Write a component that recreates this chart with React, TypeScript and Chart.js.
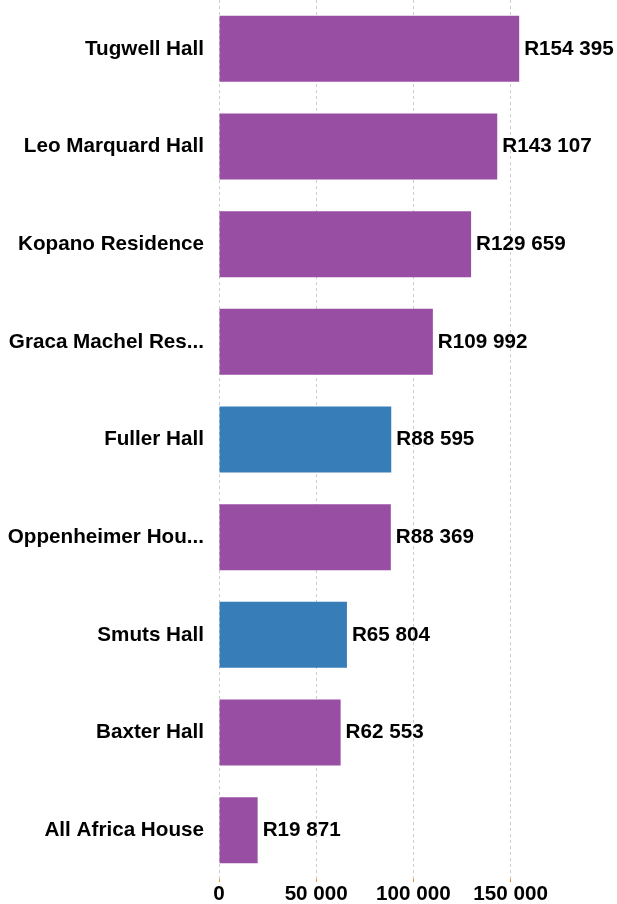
import React, { useEffect, useRef } from "react";
import { Chart, registerables } from "chart.js";

Chart.register(...registerables);

const categories: string[] = [
  "Tugwell Hall",
  "Leo Marquard Hall",
  "Kopano Residence",
  "Graca Machel Res...",
  "Fuller Hall",
  "Oppenheimer Hou...",
  "Smuts Hall",
  "Baxter Hall",
  "All Africa House",
];

const values: number[] = [154395, 143107, 129659, 109992, 88595, 88369, 65804, 62553, 19871];

const groups: string[] = ["purple", "purple", "purple", "purple", "blue", "purple", "blue", "purple", "purple"];

const xTickValues: number[] = [0, 50000, 100000, 150000];

const PURPLE = "#984ea3";
const BLUE = "#377eb8";
const FONT = "'Liberation Sans', Arial, Helvetica, sans-serif";
const FS = 20.67;

const fmt = (v: number) => String(Math.round(v)).replace(/\B(?=(\d{3})+(?!\d))/g, " ");

const valueLabels = {
  id: "valueLabels",
  afterDatasetsDraw(chart: any) {
    const ctx = chart.ctx;
    const meta = chart.getDatasetMeta(0);
    ctx.save();
    ctx.font = `bold ${FS}px ${FONT}`;
    ctx.fillStyle = "#000";
    ctx.textAlign = "left";
    ctx.textBaseline = "middle";
    meta.data.forEach((bar: any, i: number) => {
      const v = chart.data.datasets[0].data[i] as number;
      ctx.fillText("R" + fmt(v), bar.x + 5, bar.y);
    });
    ctx.restore();
  },
};

export default function App() {
  const ref = useRef<HTMLCanvasElement | null>(null);

  useEffect(() => {
    if (!ref.current) return;
    const chart = new Chart(ref.current, {
      type: "bar",
      data: {
        labels: categories,
        datasets: [
          {
            data: values,
            backgroundColor: groups.map((g) => (g === "blue" ? BLUE : PURPLE)),
            borderWidth: 0,
            categoryPercentage: 1,
            barPercentage: 0.675,
          },
        ],
      },
      options: {
        indexAxis: "y",
        responsive: false,
        animation: false,
        layout: { padding: 0 },
        plugins: {
          legend: { display: false },
          tooltip: { enabled: false },
        },
        scales: {
          x: {
            min: 0,
            max: 204700,
            afterBuildTicks: (scale: any) => {
              scale.ticks = xTickValues.map((v) => ({ value: v }));
            },
            afterFit: (scale: any) => {
              scale.height = 25;
              scale.paddingLeft = 0;
              scale.paddingRight = 0;
            },
            grid: {
              display: true,
              color: "#cccccc",
              lineWidth: 1,
              tickColor: "#f28e2b",
              tickLength: 3,
              tickBorderDash: [],
            },
            border: { display: false, dash: [3, 3] },
            ticks: {
              color: "#000",
              padding: 0,
              font: { family: FONT, size: FS, weight: "bold" },
              callback: (v: any) => fmt(Number(v)),
              maxRotation: 0,
            },
          },
          y: {
            afterFit: (scale: any) => {
              scale.width = 219;
              scale.paddingTop = 0;
              scale.paddingBottom = 0;
            },
            grid: { display: false, drawTicks: false },
            border: { display: false },
            ticks: {
              color: "#000",
              padding: 15,
              font: { family: FONT, size: FS, weight: "bold" },
            },
          },
        },
      },
      plugins: [valueLabels],
    } as any);
    return () => chart.destroy();
  }, []);

  return (
    <div style={{ position: "fixed", left: 0, top: 0, width: 617, height: 904, background: "#fff" }}>
      <canvas ref={ref} width={617} height={904} style={{ display: "block" }} />
    </div>
  );
}
